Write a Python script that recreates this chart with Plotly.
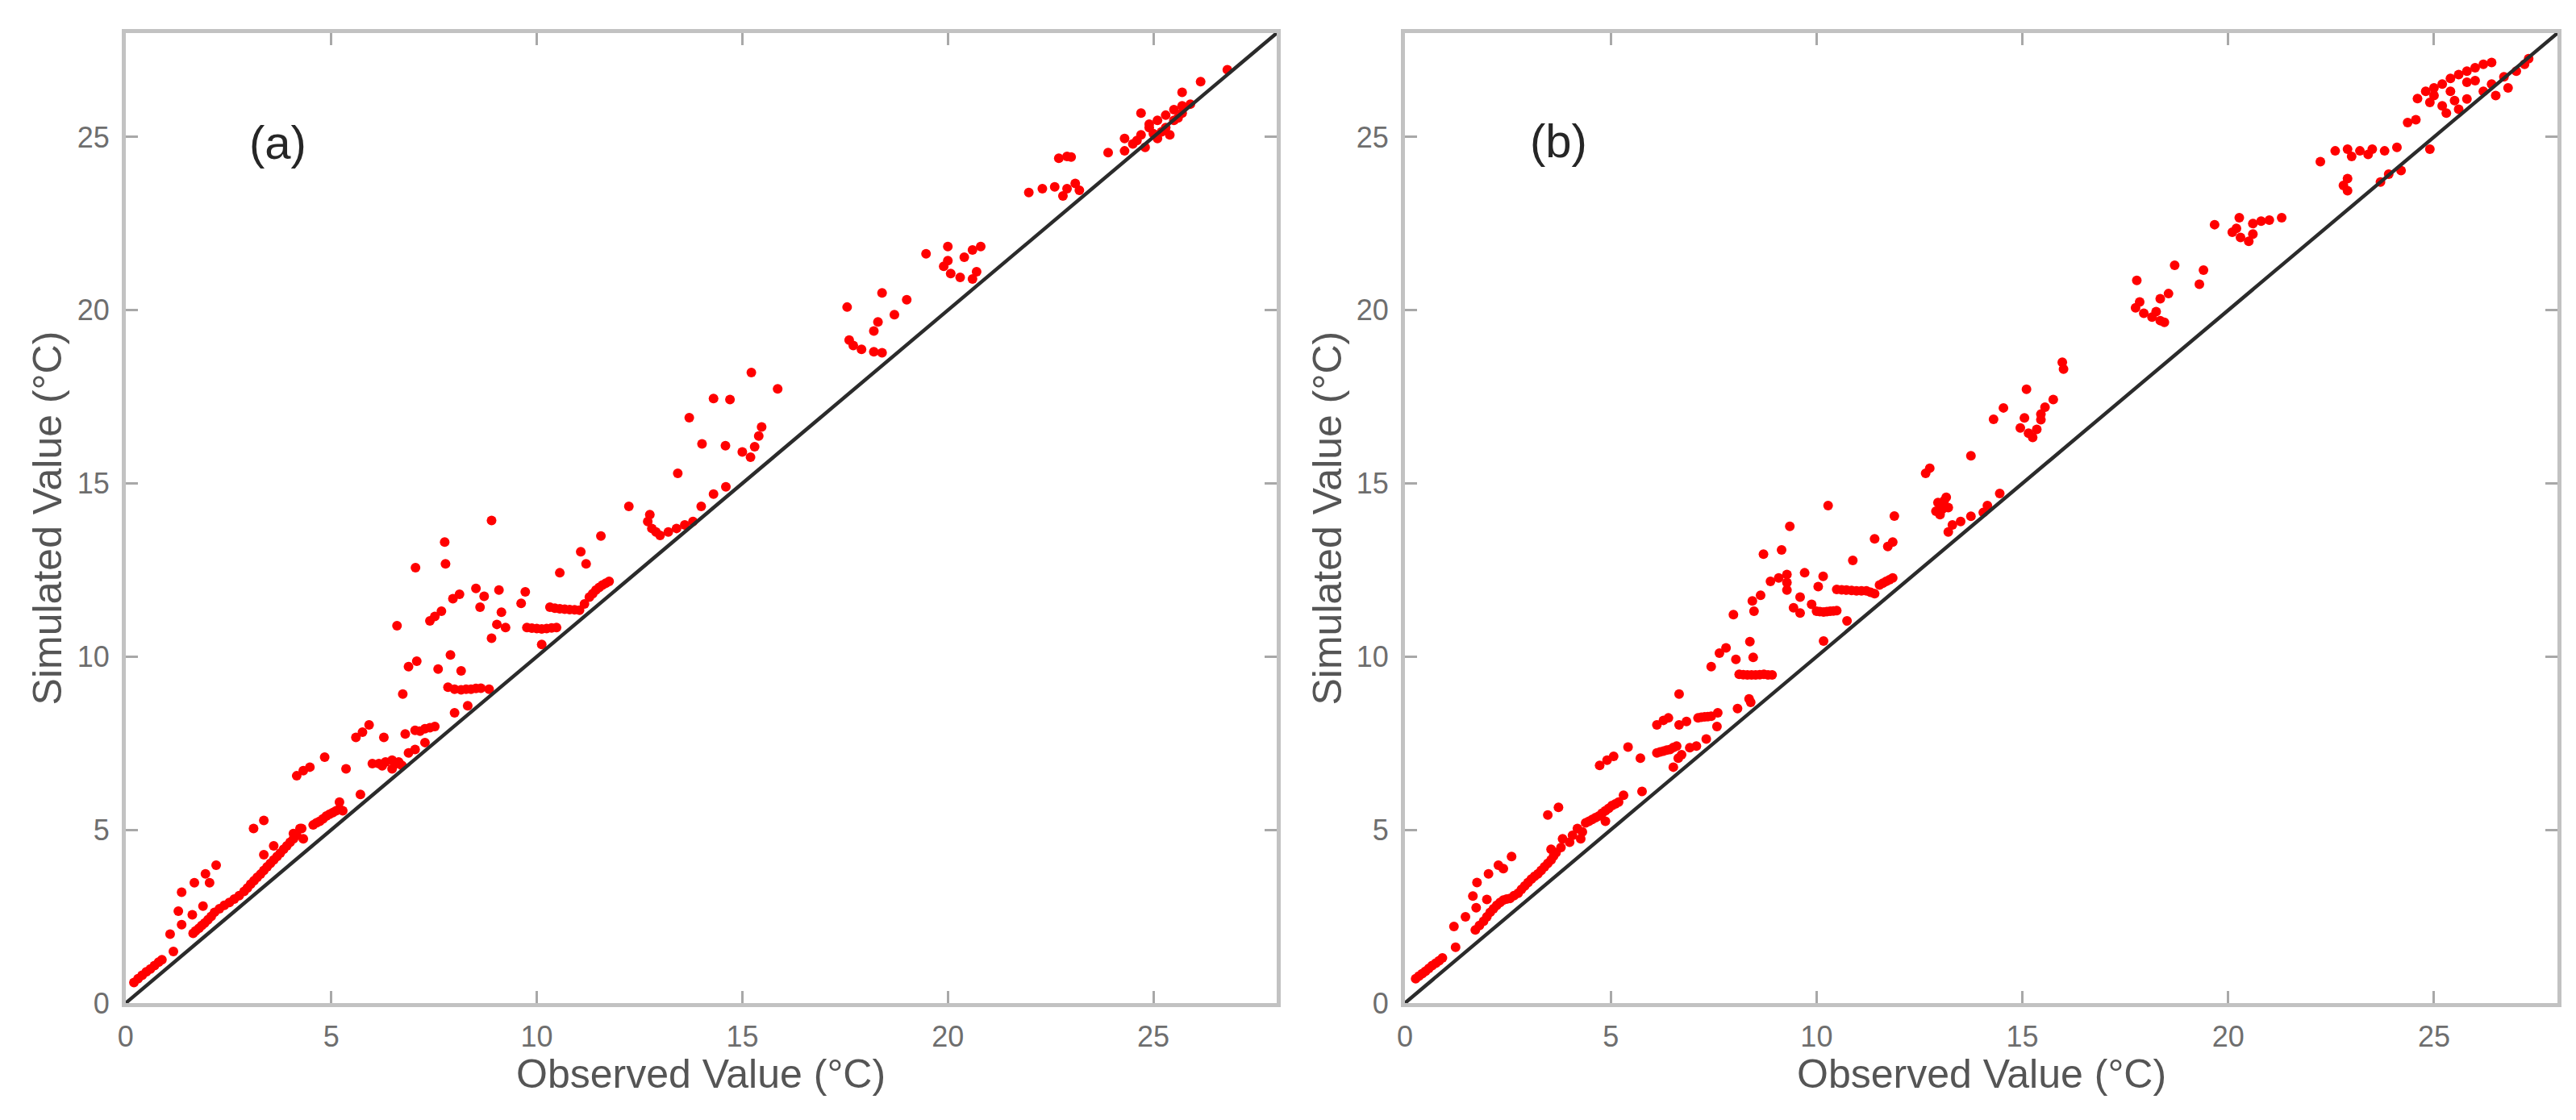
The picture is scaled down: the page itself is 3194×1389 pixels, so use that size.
import plotly.graph_objects as go

# panel (a): observed vs simulated (deg C)
obs_a = [0.20, 0.30, 0.40, 0.50, 0.60, 0.70, 0.80, 0.88, 1.16, 1.08, 1.28, 1.36, 1.36, 1.62, 1.67,
         1.88, 1.94, 2.04, 2.20,
         1.64, 1.70, 1.78, 1.85, 1.92, 2.00, 2.08, 2.16, 2.28, 2.40, 2.52, 2.64, 2.76, 2.88, 2.96,
         3.04, 3.12, 3.20, 3.28, 3.36, 3.44, 3.52, 3.60, 3.68, 3.76, 3.84, 3.92, 4.00, 4.08, 4.16,
         4.28, 4.32, 4.24, 4.08, 3.36, 3.60, 3.11, 3.36,
         4.56, 4.64, 4.72, 4.80, 4.88, 4.96, 5.04, 5.12, 5.20, 5.20, 5.28, 5.71,
         4.16, 4.32, 4.48, 4.84, 5.36,
         6.00, 6.16, 6.32, 6.48, 6.64, 6.48, 6.72, 6.56, 6.24, 6.88, 7.04, 7.28,
         5.60, 5.76, 5.92, 6.28, 6.80, 7.04, 7.16, 7.28, 7.40, 7.52,
         6.74, 6.88, 7.08, 7.60, 7.90, 8.16, 8.00, 8.32,
         7.84, 8.00, 8.16, 8.28, 8.40, 8.52, 8.64, 8.84,
         6.60, 7.40, 7.52, 7.68, 7.96, 8.12, 7.05, 7.76, 7.78, 8.90,
         8.52, 8.72, 8.62, 9.08, 9.14, 9.03, 9.24, 8.90, 9.72, 9.62,
         9.76, 9.88, 10.00, 10.12, 10.24, 10.36, 10.48, 10.12,
         10.56, 11.07, 11.20, 11.56,
         10.32, 10.44, 10.56, 10.68, 10.80, 10.92, 11.04, 11.16, 11.28, 11.36, 11.44, 11.52,
         11.60, 11.68, 11.76, 12.24,
         12.70, 12.80, 12.90, 13.00, 13.20, 13.40, 13.60, 13.80, 12.75,
         13.43, 14.02, 14.59, 13.71, 14.30, 14.70, 15.22, 15.86,
         15.00, 15.20, 15.30, 15.40, 15.47, 14.00, 14.30, 14.60,
         17.55, 18.40, 19.00, 18.70, 18.30, 18.20, 17.60, 17.70, 17.90, 18.20, 18.40,
         19.47, 20.00, 20.00, 20.60, 20.80, 20.40, 19.90, 20.07, 20.30, 20.60, 20.70,
         21.97, 22.30, 22.60, 22.90, 23.10, 23.20, 22.80, 22.70, 22.90, 23.00,
         23.90, 24.30, 24.50, 24.70, 24.90, 25.10, 25.30, 25.50, 25.70, 24.70, 24.90, 25.30,
         25.50, 25.10, 24.80, 24.30, 25.70, 25.90, 25.40, 24.60, 25.00, 25.20, 25.60,
         25.70, 26.15, 26.80]
sim_a = [0.59, 0.70, 0.80, 0.90, 0.98, 1.08, 1.18, 1.25, 1.49, 1.99, 2.65, 2.26, 3.20, 2.55, 3.47,
         2.80, 3.73, 3.47, 3.98,
         2.01, 2.08, 2.16, 2.24, 2.31, 2.40, 2.50, 2.62, 2.72, 2.82, 2.90, 3.00, 3.10, 3.22, 3.32,
         3.43, 3.53, 3.63, 3.72, 3.83, 3.93, 4.03, 4.13, 4.23, 4.33, 4.44, 4.54, 4.64, 4.74, 4.84,
         5.04, 4.74, 5.04, 4.89, 4.28, 4.54, 5.04, 5.27,
         5.14, 5.20, 5.25, 5.32, 5.40, 5.45, 5.50, 5.55, 5.60, 5.80, 5.55, 6.02,
         6.56, 6.71, 6.81, 7.10, 6.76,
         6.91, 6.91, 6.96, 7.01, 6.96, 6.76, 6.86, 6.90, 6.85, 7.22, 7.32, 7.52,
         7.67, 7.82, 8.03, 7.67, 7.77, 7.87, 7.85, 7.92, 7.95, 7.98,
         8.92, 9.71, 9.87, 9.64, 10.05, 9.59, 8.38, 8.58,
         9.12, 9.06, 9.04, 9.06, 9.06, 9.08, 9.09, 9.06,
         10.89, 11.03, 11.16, 11.31, 11.67, 11.80, 12.57, 13.31, 12.68, 13.93,
         11.97, 11.74, 11.43, 11.92, 11.28, 10.93, 10.84, 10.53, 11.87, 11.54,
         10.84, 10.82, 10.81, 10.80, 10.81, 10.83, 10.84, 10.35,
         12.42, 13.03, 12.68, 13.48,
         11.43, 11.40, 11.38, 11.37, 11.36, 11.35, 11.34, 11.52, 11.72, 11.82, 11.92, 12.00,
         12.07, 12.12, 12.17, 14.34,
         13.90, 13.70, 13.60, 13.50, 13.60, 13.70, 13.80, 13.90, 14.10,
         15.29, 16.14, 16.09, 16.90, 17.45, 17.42, 18.20, 17.73,
         15.91, 15.76, 16.06, 16.37, 16.63, 14.34, 14.69, 14.90,
         20.09, 20.50, 20.30, 19.87, 19.66, 19.40, 19.14, 18.98, 18.87, 18.80, 18.77,
         21.63, 21.84, 21.43, 21.74, 21.84, 21.53, 21.27, 21.06, 20.95, 20.90, 21.11,
         23.40, 23.51, 23.56, 23.51, 23.66, 23.46, 23.30, 24.39, 24.44, 24.42,
         24.55, 24.60, 24.80, 25.06, 25.27, 25.48, 25.63, 25.79, 25.90, 25.69, 25.37, 25.27,
         25.48, 24.96, 24.70, 24.96, 25.69, 25.95, 25.06, 24.90, 25.10, 25.15, 25.55,
         26.29, 26.60, 26.94]

# panel (b)
obs_b = [0.26, 0.34, 0.42, 0.50, 0.58, 0.66, 0.75, 0.83, 0.91, 1.23, 1.19, 1.47, 1.73, 1.65, 1.75,
         1.99, 2.03, 2.27, 2.39, 2.59, 3.47, 3.73,
         1.71, 1.81, 1.91, 1.99, 2.07, 2.15, 2.23, 2.31, 2.39, 2.47, 2.55, 2.65, 2.75, 2.83, 2.91,
         2.99, 3.07, 3.15, 3.23, 3.31, 3.39, 3.47, 3.55, 3.61, 3.67, 3.79, 3.55, 3.83, 4.00, 4.07,
         4.19, 4.31, 4.27, 4.39, 4.47, 4.55, 4.63, 4.71, 4.79, 4.87, 4.87, 4.95, 5.03, 5.11, 5.19,
         5.31, 5.76,
         4.73, 4.91, 5.07, 5.42, 5.72,
         6.12, 6.20, 6.28, 6.36, 6.44, 6.52, 6.60, 6.64, 6.52, 6.72, 6.92, 7.08, 7.32,
         6.12, 6.28, 6.40, 6.66, 6.84, 7.12, 7.20, 7.28, 7.36, 7.44, 7.60, 7.58, 6.66,
         8.08, 8.40, 8.36, 7.44, 7.64, 7.80, 8.04, 8.38, 8.46,
         8.12, 8.22, 8.32, 8.42, 8.52, 8.62, 8.72, 8.82, 8.92,
         7.98, 8.44, 8.64, 8.48, 8.71, 9.15, 9.35, 8.88, 9.08, 9.28, 9.28, 9.28,
         9.71, 9.60, 9.44, 9.60,
         9.88, 10.00, 10.08, 10.17, 10.25, 10.33, 10.41, 10.49, 10.17, 10.74,
         10.04, 10.16, 10.28, 10.88,
         10.49, 10.61, 10.73, 10.85, 10.97, 11.09, 11.21, 11.31, 11.41, 11.53, 11.61, 11.69,
         11.77, 11.85, 11.41, 11.73, 11.85, 11.89,
         12.65, 12.75, 13.75, 14.30, 14.54,
         14.95, 15.15, 15.35, 15.05, 15.45, 15.25, 15.45, 15.55, 15.75, 15.10, 15.97, 16.00,
         12.90, 13.00, 13.10, 13.20, 13.00, 13.15, 13.05, 12.95, 13.30, 13.50, 13.20,
         14.15, 14.45, 14.05, 13.75,
         17.78, 18.70, 19.40, 19.30, 18.55, 18.35, 17.75, 17.95, 18.15, 18.35, 17.85, 18.25, 18.45,
         19.67, 20.27, 20.20, 20.60, 21.00, 21.30, 20.80, 20.10, 20.30, 20.50, 20.60,
         22.24, 22.60, 22.90, 23.20, 23.50, 23.80, 24.10, 23.00, 23.40,
         22.90, 22.80, 22.90, 24.20, 23.90, 23.70, 24.90, 24.36, 24.56,
         24.60, 24.80, 25.00, 25.20, 25.40, 25.60, 25.80, 26.00, 26.20, 26.40,
         24.90, 25.20, 25.50, 25.80, 25.60, 25.30, 26.20, 26.40, 26.00, 26.70, 27.00, 27.20,
         27.30, 26.80, 26.50, 25.40, 25.80, 25.00]
sim_b = [0.70, 0.78, 0.85, 0.92, 1.00, 1.08, 1.15, 1.22, 1.30, 1.61, 2.21, 2.49, 2.75, 3.09, 3.48,
         2.99, 3.73, 3.98, 3.88, 4.23, 5.43, 5.65,
         2.11, 2.24, 2.36, 2.49, 2.62, 2.72, 2.82, 2.90, 2.97, 3.00, 3.02, 3.10, 3.17, 3.28, 3.38,
         3.48, 3.58, 3.66, 3.73, 3.83, 3.93, 4.03, 4.13, 4.24, 4.34, 4.49, 4.44, 4.74, 4.64, 4.84,
         5.04, 4.94, 4.74, 5.20, 5.25, 5.30, 5.35, 5.40, 5.48, 5.55, 5.25, 5.62, 5.70, 5.75, 5.80,
         6.00, 6.11,
         6.86, 7.01, 7.12, 7.39, 7.07,
         7.22, 7.25, 7.27, 7.30, 7.32, 7.38, 7.42, 7.07, 6.81, 7.17, 7.37, 7.42, 7.62,
         8.03, 8.16, 8.23, 8.03, 8.13, 8.23, 8.25, 8.26, 8.27, 8.28, 8.38, 7.98, 8.92,
         8.50, 8.68, 8.78, 9.71, 10.10, 10.25, 9.92, 10.43, 9.98,
         9.49, 9.48, 9.47, 9.47, 9.47, 9.48, 9.49, 9.47, 9.47,
         11.21, 11.61, 11.77, 11.31, 12.96, 13.08, 13.76, 12.17, 12.27, 12.37, 12.14, 11.92,
         12.42, 11.72, 11.41, 11.26,
         11.51, 11.31, 11.30, 11.29, 11.30, 11.31, 11.32, 11.33, 10.45, 11.03,
         12.02, 12.32, 14.36, 12.78,
         11.94, 11.93, 11.92, 11.91, 11.90, 11.90, 11.90, 11.86, 11.82, 12.07, 12.12, 12.17,
         12.22, 12.27, 13.40, 13.18, 13.31, 14.06,
         15.29, 15.44, 15.80, 16.85, 17.18,
         16.60, 16.45, 16.56, 16.89, 16.84, 16.33, 17.00, 17.20, 17.42, 17.72, 18.50, 18.30,
         14.20, 14.40, 14.50, 14.30, 14.10, 14.60, 14.25, 14.45, 13.80, 13.90, 13.60,
         14.36, 14.71, 14.16, 14.05,
         20.86, 21.30, 21.16, 20.75, 20.48, 20.33, 20.07, 19.91, 19.80, 19.70, 20.24, 19.96, 19.65,
         22.47, 22.67, 22.36, 22.50, 22.60, 22.67, 22.57, 22.25, 22.10, 21.99, 22.20,
         24.29, 24.60, 24.65, 24.60, 24.65, 24.60, 24.70, 24.44, 24.50,
         23.80, 23.60, 23.45, 24.03, 23.93, 23.70, 24.65, 25.42, 25.50,
         26.11, 26.32, 26.42, 26.53, 26.69, 26.80, 26.90, 27.00, 27.10, 27.15,
         26.00, 25.90, 26.05, 26.10, 25.80, 25.69, 26.32, 26.53, 26.63, 26.74, 26.90, 27.10,
         27.26, 26.42, 26.20, 26.32, 26.58, 26.20]

line_x = [0, 28]
line_y = [0, 28]
tick_vals = [0, 5, 10, 15, 20, 25]
panel_labels = ["(a)", "(b)"]
x_title = "Observed Value (°C)"
y_title = "Simulated Value (°C)"

FONT = "Liberation Sans, Arial, sans-serif"

fig = go.Figure()

panels = [(obs_a, sim_a, "x", "y"), (obs_b, sim_b, "x2", "y2")]
for obs, sim, xa, ya in panels:
    fig.add_trace(go.Scatter(x=obs, y=sim, mode="markers", xaxis=xa, yaxis=ya,
                             marker=dict(color="#ff0000", size=12, line=dict(width=0)),
                             showlegend=False))
    fig.add_trace(go.Scatter(x=line_x, y=line_y, mode="lines", xaxis=xa, yaxis=ya,
                             line=dict(color="#2b2b2b", width=4.5), showlegend=False))

axis_style = dict(range=[0, 28], tickvals=tick_vals, ticks="inside", ticklen=15, tickwidth=3,
                  tickcolor="#a8a8a8", showline=True, linewidth=5, linecolor="#c2c2c2",
                  mirror="ticks", showgrid=False, zeroline=False, automargin=False,
                  tickfont=dict(family=FONT, size=36, color="#6e6e6e"))

xdoms = [[0.0463, 0.4931], [0.5429, 0.9903]]
ydom = [0.1102, 0.9762]

fig.update_layout(
    width=3194, height=1389,
    paper_bgcolor="white", plot_bgcolor="white",
    margin=dict(l=0, r=0, t=0, b=0, pad=0),
    xaxis=dict(domain=xdoms[0], anchor="y", ticklabelstandoff=6, **axis_style),
    yaxis=dict(domain=ydom, anchor="x", ticklabelstandoff=8, **axis_style),
    xaxis2=dict(domain=xdoms[1], anchor="y2", ticklabelstandoff=6, **axis_style),
    yaxis2=dict(domain=ydom, anchor="x2", ticklabelstandoff=8, **axis_style),
)

label_pos = [(3.7, 24.85, "x", "y"), (3.73, 24.9, "x2", "y2")]
for (lx, ly, xr, yr), txt in zip(label_pos, panel_labels):
    fig.add_annotation(x=lx, y=ly, xref=xr, yref=yr, text=txt, showarrow=False,
                       xanchor="center", yanchor="middle",
                       font=dict(family=FONT, size=58, color="#262626"))

for i, dom in enumerate(xdoms):
    cx = (dom[0] + dom[1]) / 2
    fig.add_annotation(x=cx, y=1 - 1324 / 1389, xref="paper", yref="paper", text=x_title,
                       showarrow=False, xanchor="center", yanchor="middle",
                       font=dict(family=FONT, size=50, color="#555555"))
    fig.add_annotation(x=dom[0] - 96 / 3194, y=(ydom[0] + ydom[1]) / 2, xref="paper", yref="paper",
                       text=y_title, textangle=-90, showarrow=False,
                       xanchor="center", yanchor="middle",
                       font=dict(family=FONT, size=50, color="#555555"))

fig.write_html("out.html")
